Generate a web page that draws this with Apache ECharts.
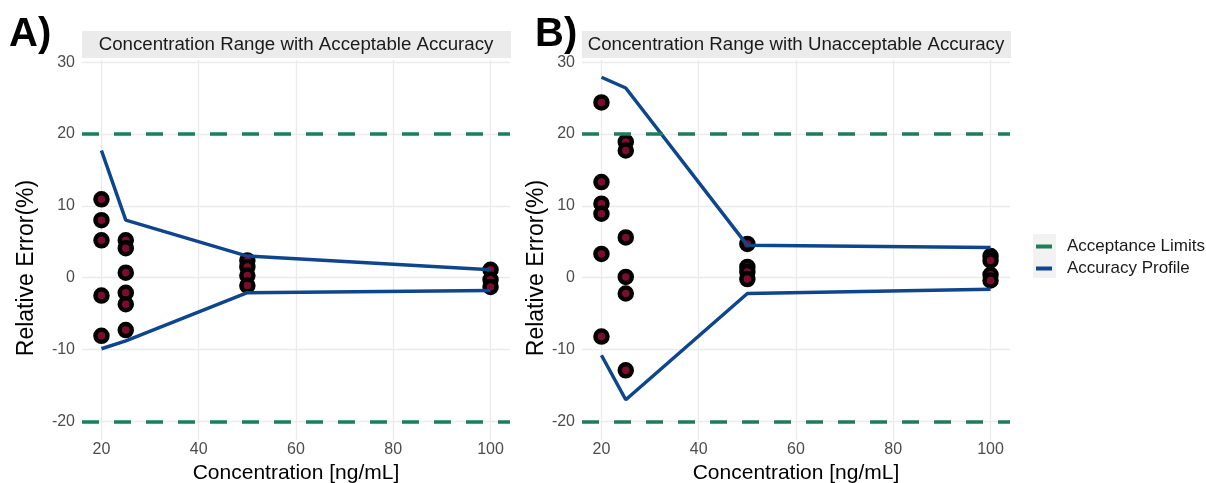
<!DOCTYPE html>
<html><head><meta charset="utf-8">
<script src="https://cdn.jsdelivr.net/npm/echarts@6/dist/echarts.min.js"></script>
<style>html,body{margin:0;padding:0;background:#fff}#c{width:1206px;height:483px}</style>
</head><body><div id="c"></div>
<script>
// ---- data ----
const panelTags = ['A)', 'B)'];
const panelTitles = ['Concentration Range with Acceptable Accuracy', 'Concentration Range with Unacceptable Accuracy'];
const xTickValues = [20, 40, 60, 80, 100];
const yTickValues = [-20, -10, 0, 10, 20, 30];
const levels = [20, 25, 50, 100];
const acceptanceLimits = [20, -20];

// Panel A observations (relative error %) per concentration level
const a_obs_20 = [10.9, 8.0, 5.2, -2.5, -8.1];
const a_obs_25 = [5.2, 4.1, 0.7, -2.1, -3.7, -7.3];
const a_obs_50 = [2.4, 1.5, 0.3, -1.1];
const a_obs_100 = [1.1, -0.3, -1.3];
const a_upper = [17.7, 8.0, 3.0, 1.1];
const a_lower = [-9.9, -8.8, -2.1, -1.8];

// Panel B observations
const b_obs_20 = [24.4, 13.3, 10.3, 8.9, 3.3, -8.2];
const b_obs_25 = [18.9, 17.7, 5.6, 0.1, -2.2, -12.9];
const b_obs_50 = [4.7, 1.5, 0.8, -0.2];
const b_obs_100 = [3.0, 2.4, 0.4, -0.4];
const b_upper = [27.9, 26.4, 4.5, 4.2];
const b_lower = [-10.8, -17.0, -2.2, -1.6];

const xRange = [16, 104];
const yRange = [-22.6, 30.3];

// ---- build ----
const GREEN = '#1B7F5B', BLUE = '#0E468E', RED = '#7E0C2E';
const panels = [
  {obs: [a_obs_20, a_obs_25, a_obs_50, a_obs_100], upper: a_upper, lower: a_lower},
  {obs: [b_obs_20, b_obs_25, b_obs_50, b_obs_100], upper: b_upper, lower: b_lower}
];
const gridLefts = [82, 582];
const gridW = 428, gridTop = 60, gridH = 380;

const grids = [], xAxes = [], yAxes = [], series = [], graphics = [];
panels.forEach((p, i) => {
  grids.push({left: gridLefts[i], top: gridTop, width: gridW, height: gridH, containLabel: false, outerBoundsMode: 'none'});
  xAxes.push({
    type: 'value', gridIndex: i, min: xRange[0], max: xRange[1],
    minInterval: 20, maxInterval: 20,
    name: 'Concentration [ng/mL]', nameLocation: 'middle', nameGap: 2,
    nameTextStyle: {fontFamily: 'Liberation Sans', fontSize: 21, color: '#000', verticalAlign: 'top'},
    axisLine: {show: false}, axisTick: {show: false},
    axisLabel: {color: '#4D4D4D', fontFamily: 'Liberation Sans', fontSize: 16, margin: 2,
      showMinLabel: false, showMaxLabel: false,
      formatter: v => xTickValues.includes(v) ? String(v) : ''},
    splitLine: {show: true, showMinLine: false, showMaxLine: false, lineStyle: {color: '#EBEBEB', width: 1.3}}
  });
  yAxes.push({
    type: 'value', gridIndex: i, min: yRange[0], max: yRange[1],
    minInterval: 10, maxInterval: 10,
    name: 'Relative Error(%)', nameLocation: 'middle', nameGap: i === 0 ? 44 : 29,
    nameTextStyle: {fontFamily: 'Liberation Sans', fontSize: 23, color: '#000', padding: [0, 36, 0, 0]},
    axisLine: {show: false}, axisTick: {show: false},
    axisLabel: {color: '#4D4D4D', fontFamily: 'Liberation Sans', fontSize: 16, margin: 7,
      showMinLabel: false, showMaxLabel: false,
      formatter: v => yTickValues.includes(v) ? String(v) : ''},
    splitLine: {show: true, showMinLine: false, showMaxLine: false, lineStyle: {color: '#EBEBEB', width: 1.3}}
  });
  // acceptance limits
  series.push({
    name: 'Acceptance Limits', type: 'line', xAxisIndex: i, yAxisIndex: i, data: [],
    color: GREEN, z: 2,
    markLine: {silent: true, symbol: 'none', label: {show: false},
      lineStyle: {color: GREEN, width: 3.5, type: [17, 15]},
      data: acceptanceLimits.map(v => ({yAxis: v}))}
  });
  // observations
  const pts = [];
  p.obs.forEach((arr, k) => arr.forEach(v => pts.push([levels[k], v])));
  series.push({
    name: 'obs' + i, type: 'scatter', xAxisIndex: i, yAxisIndex: i, data: pts,
    symbolSize: 12, z: 3,
    itemStyle: {color: RED, borderColor: '#000', borderWidth: 4.5, opacity: 1}
  });
  // accuracy profile
  ['upper', 'lower'].forEach(key => {
    series.push({
      name: 'Accuracy Profile', type: 'line', xAxisIndex: i, yAxisIndex: i,
      data: levels.map((x, k) => [x, p[key][k]]),
      symbol: 'none', color: BLUE, z: 4,
      lineStyle: {color: BLUE, width: 3.5}
    });
  });
  // strip and tag
  graphics.push({type: 'rect', shape: {x: gridLefts[i], y: 31, width: gridW + 1, height: 27}, style: {fill: '#EBEBEB'}});
  graphics.push({type: 'text', x: gridLefts[i] + gridW / 2, y: 45,
    style: {text: panelTitles[i], fill: '#1A1A1A', font: '18.7px "Liberation Sans"', textAlign: 'center', textVerticalAlign: 'middle'}});
  graphics.push({type: 'text', x: i === 0 ? 9 : 535, y: 35,
    style: {text: panelTags[i], fill: '#000', font: 'bold 40px "Liberation Sans"', textAlign: 'left', textVerticalAlign: 'middle'}});
});
graphics.push({type: 'rect', shape: {x: 1033, y: 234, width: 23, height: 44}, style: {fill: '#F2F2F2'}, z: -1});

const chart = echarts.init(document.getElementById('c'), null, {renderer: 'canvas'});
chart.setOption({
  backgroundColor: '#fff',
  animation: false,
  grid: grids, xAxis: xAxes, yAxis: yAxes, series: series,
  legend: {
    orient: 'vertical', left: 1036, top: 238, padding: 0,
    itemWidth: 16, itemHeight: 4, itemGap: 5,
    textStyle: {fontFamily: 'Liberation Sans', fontSize: 17, color: '#1A1A1A', lineHeight: 17, padding: [0, 0, 0, 10]},
    data: [{name: 'Acceptance Limits', icon: 'rect', itemStyle: {color: GREEN}},
           {name: 'Accuracy Profile', icon: 'rect', itemStyle: {color: BLUE}}]
  },
  graphic: graphics
});
</script></body></html>
